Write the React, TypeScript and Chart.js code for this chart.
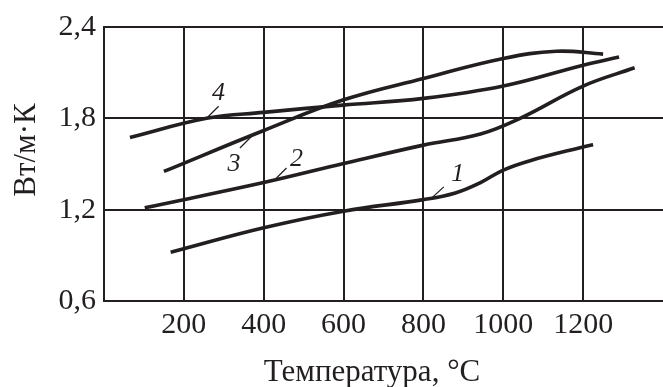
import { useEffect, useRef } from "react";
import { Chart, registerables } from "chart.js";

Chart.register(...registerables);

// Axis ticks
const tempTicks = [200, 400, 600, 800, 1000, 1200];
const condTicks = [0.6, 1.2, 1.8, 2.4];

// Thermal conductivity curves: temperature (°C) and conductivity (W/m·K)
const curve1Temp = [167, 400, 600, 800, 880, 943, 1000, 1067, 1200, 1225];
const curve1Cond = [0.92, 1.081, 1.19, 1.266, 1.31, 1.378, 1.46, 1.522, 1.612, 1.626];

const curve2Temp = [102, 400, 600, 800, 943, 1042, 1200, 1329];
const curve2Cond = [1.212, 1.378, 1.503, 1.624, 1.697, 1.8, 2.012, 2.132];

const curve3Temp = [150, 400, 598, 800, 1000, 1133, 1250];
const curve3Cond = [1.451, 1.72, 1.92, 2.062, 2.193, 2.241, 2.222];

const curve4Temp = [65, 257, 400, 598, 800, 1000, 1200, 1290];
const curve4Cond = [1.674, 1.8, 1.839, 1.887, 1.931, 2.012, 2.149, 2.203];

const curveNames = ["1", "2", "3", "4"];
// Temperature at which each curve's number label is attached
const labelTemps = [821, 427, 373, 257];

const xTitle = "Температура, °C";
const yTitle = "Вт/м·К";

const INK = "#231f20";
const SERIF = "'Liberation Serif', 'Times New Roman', serif";

// Leader-line end and label centre, in pixels relative to the anchor on the curve
const labelOffsets = [
  { lx: 12, ly: -11, tx: 26, ty: -24 },
  { lx: 12, ly: -12, tx: 22, ty: -21 },
  { lx: -13, ly: 13, tx: -19, ty: 29 },
  { lx: 12, ly: -12, tx: 12, ty: -25 },
];

const curves = [
  { name: curveNames[0], temp: curve1Temp, cond: curve1Cond },
  { name: curveNames[1], temp: curve2Temp, cond: curve2Cond },
  { name: curveNames[2], temp: curve3Temp, cond: curve3Cond },
  { name: curveNames[3], temp: curve4Temp, cond: curve4Cond },
];

function interp(xs: number[], ys: number[], t: number): number {
  for (let i = 0; i < xs.length - 1; i++) {
    if (t >= xs[i] && t <= xs[i + 1]) {
      const f = (t - xs[i]) / (xs[i + 1] - xs[i]);
      return ys[i] + f * (ys[i + 1] - ys[i]);
    }
  }
  return t < xs[0] ? ys[0] : ys[ys.length - 1];
}

const annotations = {
  id: "annotations",
  afterDraw(chart: any) {
    const { ctx, scales } = chart;
    const xs = scales.x;
    const ys = scales.y;
    ctx.save();
    ctx.fillStyle = INK;
    ctx.strokeStyle = INK;

    curves.forEach((c, i) => {
      const t = labelTemps[i];
      const k = interp(c.temp, c.cond, t);
      const px = xs.getPixelForValue(t);
      const py = ys.getPixelForValue(k);
      const o = labelOffsets[i];
      ctx.beginPath();
      ctx.moveTo(px, py);
      ctx.lineTo(px + o.lx, py + o.ly);
      ctx.lineWidth = 1.3;
      ctx.stroke();
      ctx.font = `italic 26px ${SERIF}`;
      ctx.textAlign = "center";
      ctx.textBaseline = "middle";
      ctx.fillText(c.name, px + o.tx, py + o.ty);
    });

    ctx.font = `31px ${SERIF}`;
    ctx.textAlign = "center";
    ctx.textBaseline = "alphabetic";
    ctx.fillText(xTitle, 372, 381);

    ctx.translate(35, 150);
    ctx.rotate(-Math.PI / 2);
    ctx.fillText(yTitle, 0, 0);
    ctx.restore();
  },
};

export default function App() {
  const canvasRef = useRef<HTMLCanvasElement | null>(null);

  useEffect(() => {
    const canvas = canvasRef.current;
    if (!canvas) return;

    const datasets = curves.map((c) => ({
      label: c.name,
      data: c.temp.map((t, i) => ({ x: t, y: c.cond[i] })),
      borderColor: INK,
      borderWidth: 3.6,
      pointRadius: 0,
      fill: false,
      tension: 0.4,
      borderCapStyle: "butt" as const,
    }));

    const chart = new Chart(canvas, {
      type: "line",
      data: { datasets },
      options: {
        animation: false,
        responsive: false,
        devicePixelRatio: 1,
        layout: { padding: { top: 27, left: 0, right: 0, bottom: 0 } },
        plugins: {
          legend: { display: false },
          tooltip: { enabled: false },
          title: { display: false },
        },
        scales: {
          x: {
            type: "linear",
            min: 0,
            max: 1400,
            afterBuildTicks: (scale: any) => {
              scale.ticks = tempTicks.map((v) => ({ value: v }));
            },
            afterFit: (scale: any) => {
              scale.height = 86;
            },
            grid: { color: INK, lineWidth: 2, drawTicks: false },
            border: { color: INK, width: 2 },
            ticks: {
              color: INK,
              padding: 6,
              maxRotation: 0,
              autoSkip: false,
              font: { family: SERIF, size: 30 },
              callback: (v: any) => String(v),
            },
          },
          y: {
            type: "linear",
            min: 0.6,
            max: 2.4,
            afterBuildTicks: (scale: any) => {
              scale.ticks = condTicks.map((v) => ({ value: v }));
            },
            afterFit: (scale: any) => {
              scale.width = 104;
            },
            grid: { color: INK, lineWidth: 2, drawTicks: false },
            border: { color: INK, width: 2 },
            ticks: {
              color: INK,
              padding: 8,
              autoSkip: false,
              font: { family: SERIF, size: 30 },
              callback: (v: any) => Number(v).toFixed(1).replace(".", ","),
            },
          },
        },
      },
      plugins: [annotations],
    });

    return () => chart.destroy();
  }, []);

  return (
    <div
      style={{
        position: "fixed",
        left: 0,
        top: 0,
        width: 663,
        height: 387,
        background: "#ffffff",
      }}
    >
      <canvas ref={canvasRef} width={663} height={387} />
    </div>
  );
}
